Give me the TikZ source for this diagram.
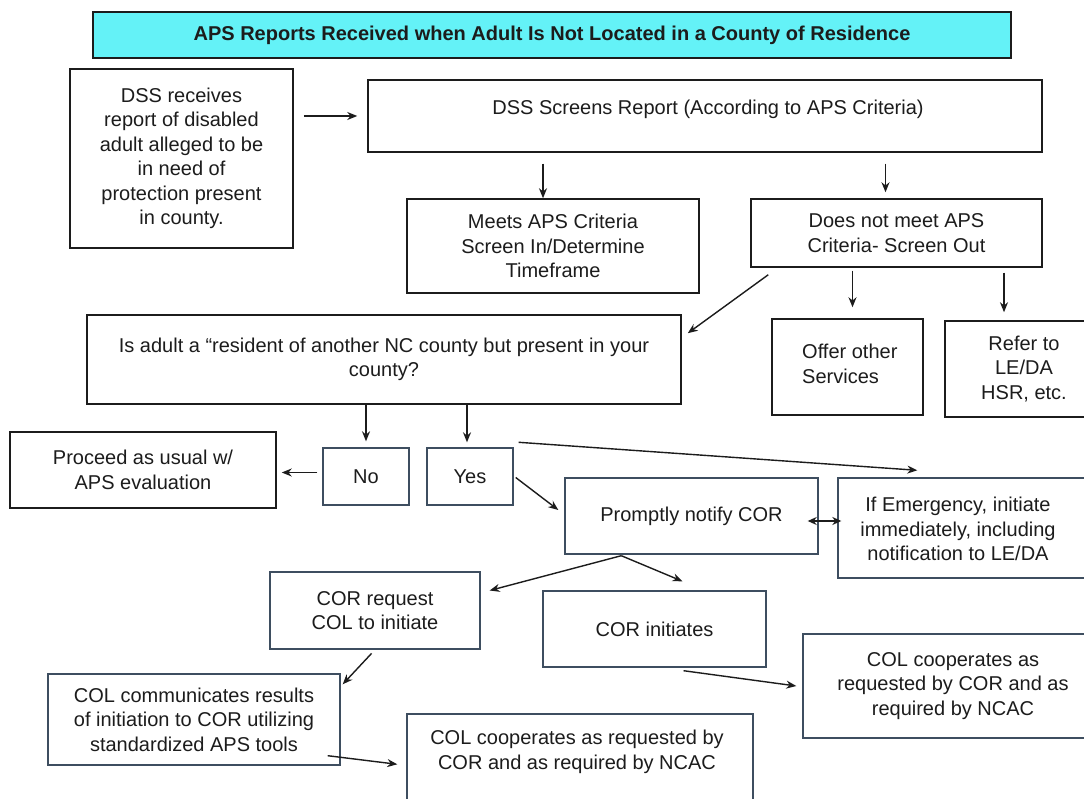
\documentclass[tikz,border=0pt]{standalone}
\usepackage{fontspec}
\setmainfont{Liberation Sans}
\usetikzlibrary{arrows.meta,calc}
\definecolor{titlefill}{RGB}{100,242,247}
\definecolor{ink}{RGB}{28,28,28}
\definecolor{slate}{RGB}{62,78,96}
\begin{document}
\begin{tikzpicture}[x=1pt,y=-1pt,
  every node/.style={font=\fontsize{20}{24.5}\selectfont, text=ink},
  boxk/.style={draw=ink, line width=1.5pt, fill=white, rectangle, inner sep=0pt, align=center},
  boxs/.style={draw=slate, line width=1.4pt, fill=white, rectangle, inner sep=0pt, align=center},
  txt/.style={align=center, inner sep=0pt},
  arr/.style={draw=ink, line width=1.4pt, -{Stealth[length=10pt,width=8pt]}},
  arrb/.style={draw=ink, line width=1.4pt, {Stealth[length=9pt,width=8pt]}-{Stealth[length=9pt,width=8pt]}}
]
\useasboundingbox (0,0) rectangle (1084,799);
\fill[white] (0,0) rectangle (1084,799);
\clip (0,0) rectangle (1084,799);

% boxes
\node[boxk, fill=titlefill, minimum width=918, minimum height=46, font=\fontsize{20}{24.5}\selectfont\bfseries] (title) at (552,35) {APS Reports Received when Adult Is Not Located in a County of Residence};
\node[boxk, minimum width=223, minimum height=179] (recv) at (181.5,158.5) {DSS receives\\report of disabled\\adult alleged to be\\in need of\\protection present\\in county.};
\node[boxk, minimum width=674, minimum height=72] (screens) at (705,116) {};
\node[txt] (screensT) at (708,109) {DSS Screens Report (According to APS Criteria)};
\node[boxk, minimum width=292, minimum height=94] (meets) at (553,246) {Meets APS Criteria\\Screen In/Determine\\Timeframe};
\node[boxk, minimum width=291, minimum height=68] (notmeet) at (896.5,233) {Does not meet APS\\Criteria- Screen Out};
\node[boxk, minimum width=594, minimum height=89] (isadult) at (384,359.5) {Is adult a “resident of another NC county but present in your\\county?};
\node[boxk, minimum width=151, minimum height=96] (offer) at (847.5,367) {};
\node[txt, align=left, anchor=west] (offerT) at (802,364) {Offer other\\Services};
\node[boxk, minimum width=158, minimum height=96] (refer) at (1024,369) {Refer to\\LE/DA\\HSR, etc.};
\node[boxk, minimum width=266, minimum height=76] (proceed) at (143,470) {Proceed as usual w/\\APS evaluation};
\node[boxs, minimum width=86, minimum height=57] (no) at (366,476.5) {No};
\node[boxs, minimum width=86, minimum height=57] (yes) at (470,476.5) {Yes};
\node[boxs, minimum width=253, minimum height=76] (prompt) at (691.5,516) {Promptly notify COR};
\node[boxs, minimum width=254, minimum height=100] (emerg) at (965,528) {};
\node[txt] (emergT) at (958,529) {If Emergency, initiate\\immediately, including\\notification to LE/DA};
\node[boxs, minimum width=210, minimum height=77] (correq) at (375,610.5) {COR request\\COL to initiate};
\node[boxs, minimum width=223, minimum height=76] (corinit) at (654.5,629) {COR initiates};
\node[boxs, minimum width=300, minimum height=104] (coopR) at (953,686) {COL cooperates as\\requested by COR and as\\required by NCAC};
\node[boxs, minimum width=292, minimum height=91] (colcomm) at (194,719.5) {COL communicates results\\of initiation to COR utilizing\\standardized APS tools};
\node[boxs, minimum width=346, minimum height=116] (coopB) at (580,772) {};
\node[txt] (coopBT) at (577,752) {COL cooperates as requested by\\COR and as required by NCAC};

% connectors
\draw[arr, shorten <=10pt, shorten >=10pt] (screens.west -| recv.east) -- (screens.west);
\draw[arr, shorten <=11pt] ($(screens.south -| meets.north)+(-10,0)$) -- ($(meets.north)+(-10,0)$);
\draw[arr, shorten <=11pt, shorten >=6pt] ($(screens.south -| notmeet.north)+(-11,0)$) -- ($(notmeet.north)+(-11,0)$);
\draw[arr] ($(notmeet.south west)+(18,7)$) -- ($(isadult.north east)+(6,19)$);
\draw[arr, shorten <=3pt, shorten >=11pt] ($(notmeet.south -| offer.north)+(5,0)$) -- ($(offer.north)+(5,0)$);
\draw[arr, shorten <=5pt, shorten >=8pt] ($(notmeet.south -| refer.north)+(-20,0)$) -- ($(refer.north)+(-20,0)$);
\draw[arr, shorten >=6pt] (isadult.south -| no.north) -- (no.north);
\draw[arr, shorten >=5pt] ($(isadult.south -| yes.north)+(-3,0)$) -- ($(yes.north)+(-3,0)$);
\draw[arr, shorten <=5pt, shorten >=5pt] ($(no.west)+(0,-4)$) -- ($(no.west -| proceed.east)+(0,-4)$);
\draw[arr] ($(yes.north east)+(5,-5)$) -- ($(emerg.north west)+(80,-7)$);
\draw[arr] ($(yes.east)+(2,1)$) -- ($(prompt.west)+(-6,-6)$);
\draw[arrb, shorten <=-11pt, shorten >=-4pt] ($(prompt.east)+(0,5)$) -- ($(prompt.east -| emerg.west)+(0,5)$);
\draw[arr] ($(prompt.south west)+(57,1)$) -- ($(correq.east)+(9,-20)$);
\draw[arr] ($(prompt.south west)+(57,1)$) -- ($(corinit.north)+(28,-9)$);
\draw[arr, shorten <=5pt] (correq.south) -- ($(colcomm.north east)+(2,11)$);
\draw[arr] ($(colcomm.south east)+(-13,-10)$) -- ($(coopB.north west)+(-9,51)$);
\draw[arr] ($(corinit.south)+(29,3)$) -- ($(coopR.west)+(-6,0)$);
\end{tikzpicture}
\end{document}
